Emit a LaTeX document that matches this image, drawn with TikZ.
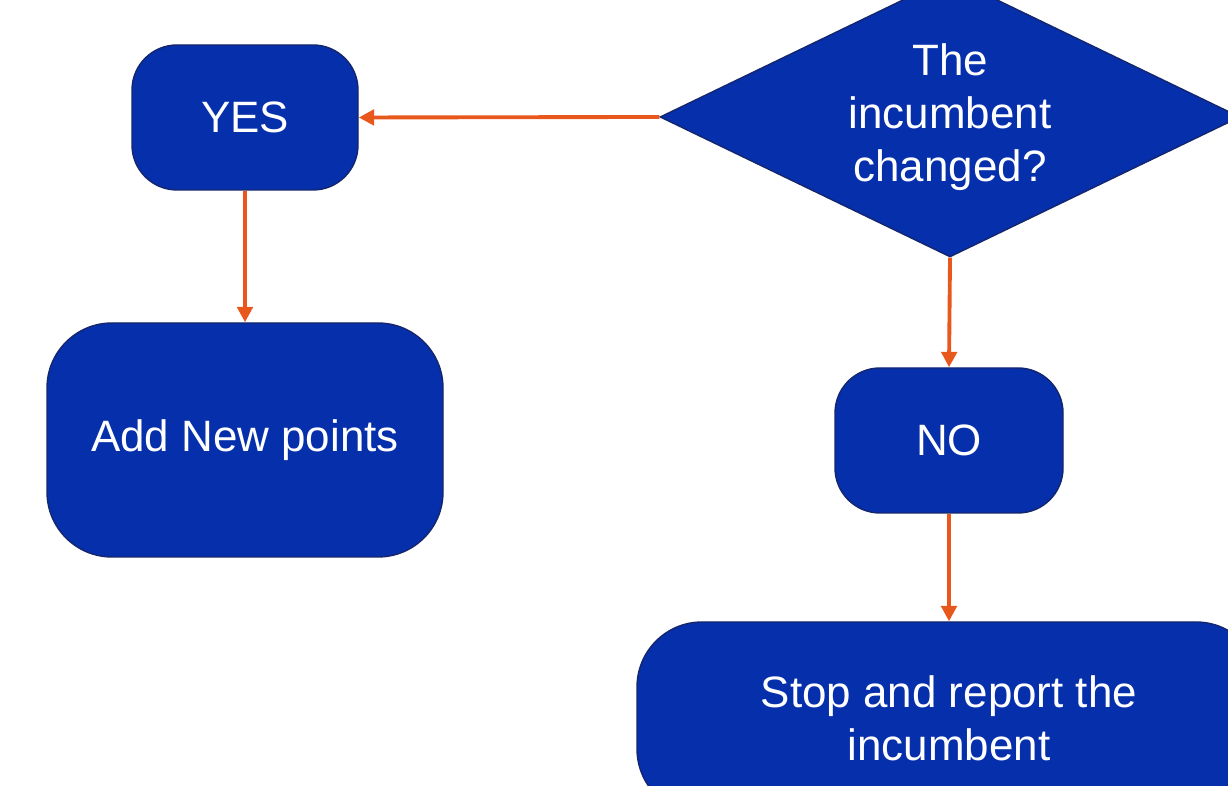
\documentclass[tikz,border=0pt]{standalone}
\usepackage{fontspec}
\setmainfont{Liberation Sans}
\usepackage{xcolor}
\usepackage{tikz}
\usetikzlibrary{positioning,shapes.geometric,arrows.meta}
\definecolor{FlowBlue}{RGB}{6,47,171}
\definecolor{FlowEdge}{RGB}{20,38,110}
\definecolor{FlowOrange}{RGB}{232,88,28}

\begin{document}
\begin{tikzpicture}[
                % Style cho các loại node
                termnode/.style={rectangle, rounded corners=#1, draw=FlowEdge, fill=FlowBlue, text=white, font=\fontsize{12.5}{15}\selectfont, align=center, inner sep=0pt},
                decisionnode/.style={diamond, aspect=2, draw=FlowEdge, fill=FlowBlue, text=white, font=\fontsize{12.5}{15}\selectfont, align=center, inner sep=0pt, minimum width=5.8cm, minimum height=2.8cm},
                % Style cạnh
                arrowedge/.style={-{Triangle[length=4.4pt,width=4.4pt]}, draw=FlowOrange, line width=1.1pt}
            ]
                \useasboundingbox (0,0) rectangle (12.28,7.86);
                \clip (0,0) rectangle (12.28,7.86);

                % --- VẼ NODE ---
                % Điều kiện
                \node[decisionnode] (cond) at (9.50, 6.69) {The\\incumbent\\changed?};

                % Nhánh YES
                \node[termnode=0.45cm, minimum width=2.26cm, minimum height=1.45cm] (yes) at (2.45, 6.685) {YES};
                \node[termnode=0.65cm, minimum width=3.96cm, minimum height=2.34cm] (addpts) at (2.45, 3.46) {Add New points};

                % Nhánh NO
                \node[termnode=0.45cm, minimum width=2.28cm, minimum height=1.45cm] (no) at (9.49, 3.455) {NO};
                \node[termnode=0.65cm, minimum width=6.24cm, minimum height=1.92cm] (stop) at (9.49, 0.68) {Stop and report the\\incumbent};

                % --- VẼ CẠNH ---
                \draw[arrowedge] (cond.west) -- (yes.east);
                \draw[arrowedge] (yes.south) -- (addpts.north);
                \draw[arrowedge] (cond.south) -- (no.north);
                \draw[arrowedge] (no.south) -- (stop.north);

            \end{tikzpicture}
\end{document}
